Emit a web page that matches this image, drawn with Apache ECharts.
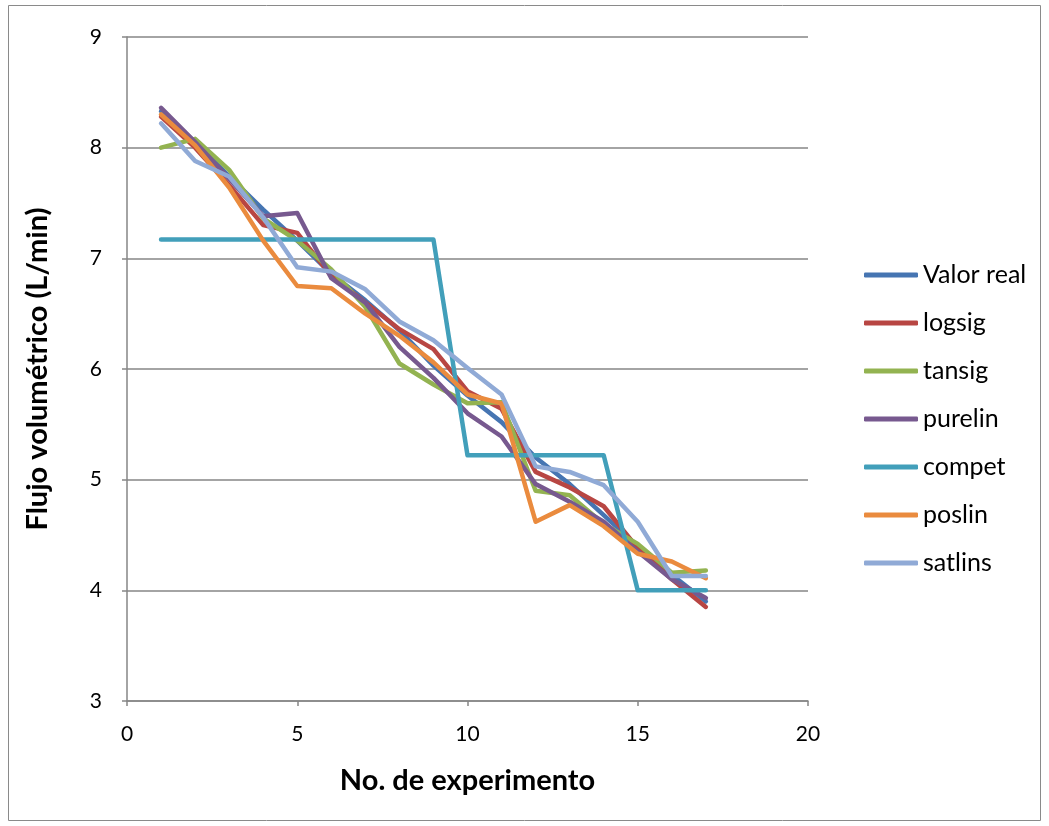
<!DOCTYPE html>
<html>
<head>
<meta charset="utf-8">
<script src="https://cdn.jsdelivr.net/npm/echarts@6/dist/echarts.min.js"></script>
<style>
  html, body { margin: 0; padding: 0; background: #fff; }
  #chart { width: 1049px; height: 826px; }
</style>
</head>
<body>
<div id="chart"></div>
<script>
// Experiment numbers (x values)
const experimentos = [1, 2, 3, 4, 5, 6, 7, 8, 9, 10, 11, 12, 13, 14, 15, 16, 17];

// Volumetric flow (L/min) per network transfer function
const valorReal = [8.33, 8.05, 7.74, 7.44, 7.16, 6.86, 6.62, 6.35, 6.03, 5.76, 5.52, 5.20, 4.96, 4.68, 4.40, 4.14, 3.90];
const logsig    = [8.28, 8.00, 7.66, 7.30, 7.23, 6.84, 6.60, 6.36, 6.18, 5.80, 5.64, 5.07, 4.93, 4.76, 4.38, 4.10, 3.85];
const tansig    = [8.00, 8.08, 7.80, 7.36, 7.16, 6.90, 6.56, 6.05, 5.86, 5.69, 5.70, 4.90, 4.86, 4.60, 4.42, 4.16, 4.18];
const purelin   = [8.36, 8.05, 7.72, 7.38, 7.41, 6.82, 6.60, 6.20, 5.92, 5.60, 5.39, 4.96, 4.80, 4.62, 4.35, 4.10, 3.93];
const compet    = [7.17, 7.17, 7.17, 7.17, 7.17, 7.17, 7.17, 7.17, 7.17, 5.22, 5.22, 5.22, 5.22, 5.22, 4.00, 4.00, 4.00];
const poslin    = [8.30, 8.02, 7.64, 7.16, 6.75, 6.73, 6.50, 6.30, 6.06, 5.77, 5.69, 4.62, 4.77, 4.58, 4.33, 4.26, 4.11];
const satlins   = [8.22, 7.88, 7.74, 7.37, 6.92, 6.88, 6.72, 6.43, 6.26, 6.01, 5.77, 5.12, 5.07, 4.95, 4.62, 4.13, 4.13];

const seriesNames  = ['Valor real', 'logsig', 'tansig', 'purelin', 'compet', 'poslin', 'satlins'];
const seriesValues = [valorReal, logsig, tansig, purelin, compet, poslin, satlins];
const seriesColors = ['#4675B2', '#B84643', '#93B351', '#77598F', '#429FBA', '#EA8B3E', '#90AAD6'];

const FONT = 'Lato, "Open Sans", sans-serif';

const chart = echarts.init(document.getElementById('chart'), null, { renderer: 'canvas' });

chart.setOption({
  animation: false,
  backgroundColor: '#ffffff',
  grid: { left: 127, right: 241, top: 37, bottom: 125, containLabel: false },
  graphic: [{
    type: 'rect',
    shape: { x: 8.5, y: 5.5, width: 1032, height: 815 },
    style: { fill: 'none', stroke: '#8a8a8a', lineWidth: 1 },
    silent: true,
    z: -1
  }],
  legend: {
    orient: 'vertical',
    left: 864,
    top: 262,
    padding: 0,
    itemWidth: 54,
    itemHeight: 5,
    itemGap: 22,
    icon: 'roundRect',
    textStyle: { fontFamily: FONT, fontSize: 25, color: '#000', lineHeight: 26 },
    data: seriesNames
  },
  xAxis: {
    type: 'value',
    min: 0,
    max: 20,
    interval: 5,
    name: 'No. de experimento',
    nameLocation: 'middle',
    nameGap: 65,
    nameTextStyle: { fontFamily: FONT, fontSize: 29, fontWeight: 'bold', color: '#000' },
    axisLine: { show: true, lineStyle: { color: '#868686', width: 1.5 } },
    axisTick: { show: true, length: 5, lineStyle: { color: '#868686', width: 1.5 } },
    axisLabel: { fontFamily: FONT, fontSize: 21, color: '#000', margin: 23 },
    splitLine: { show: false }
  },
  yAxis: {
    type: 'value',
    min: 3,
    max: 9,
    interval: 1,
    name: 'Flujo volumétrico (L/min)',
    nameLocation: 'middle',
    nameGap: 75,
    nameRotate: 90,
    nameTextStyle: { fontFamily: FONT, fontSize: 29, fontWeight: 'bold', color: '#000' },
    axisLine: { show: true, lineStyle: { color: '#868686', width: 1.5 } },
    axisTick: { show: true, length: 5, lineStyle: { color: '#868686', width: 1.5 } },
    axisLabel: { fontFamily: FONT, fontSize: 21, color: '#000', margin: 25 },
    splitLine: { show: true, lineStyle: { color: '#868686', width: 1.5 } }
  },
  series: seriesNames.map((name, i) => ({
    name: name,
    type: 'line',
    symbol: 'none',
    data: experimentos.map((x, j) => [x, seriesValues[i][j]]),
    lineStyle: { color: seriesColors[i], width: 4.5, cap: 'round', join: 'round' },
    itemStyle: { color: seriesColors[i] },
    z: 2 + i
  }))
});
</script>
</body>
</html>
